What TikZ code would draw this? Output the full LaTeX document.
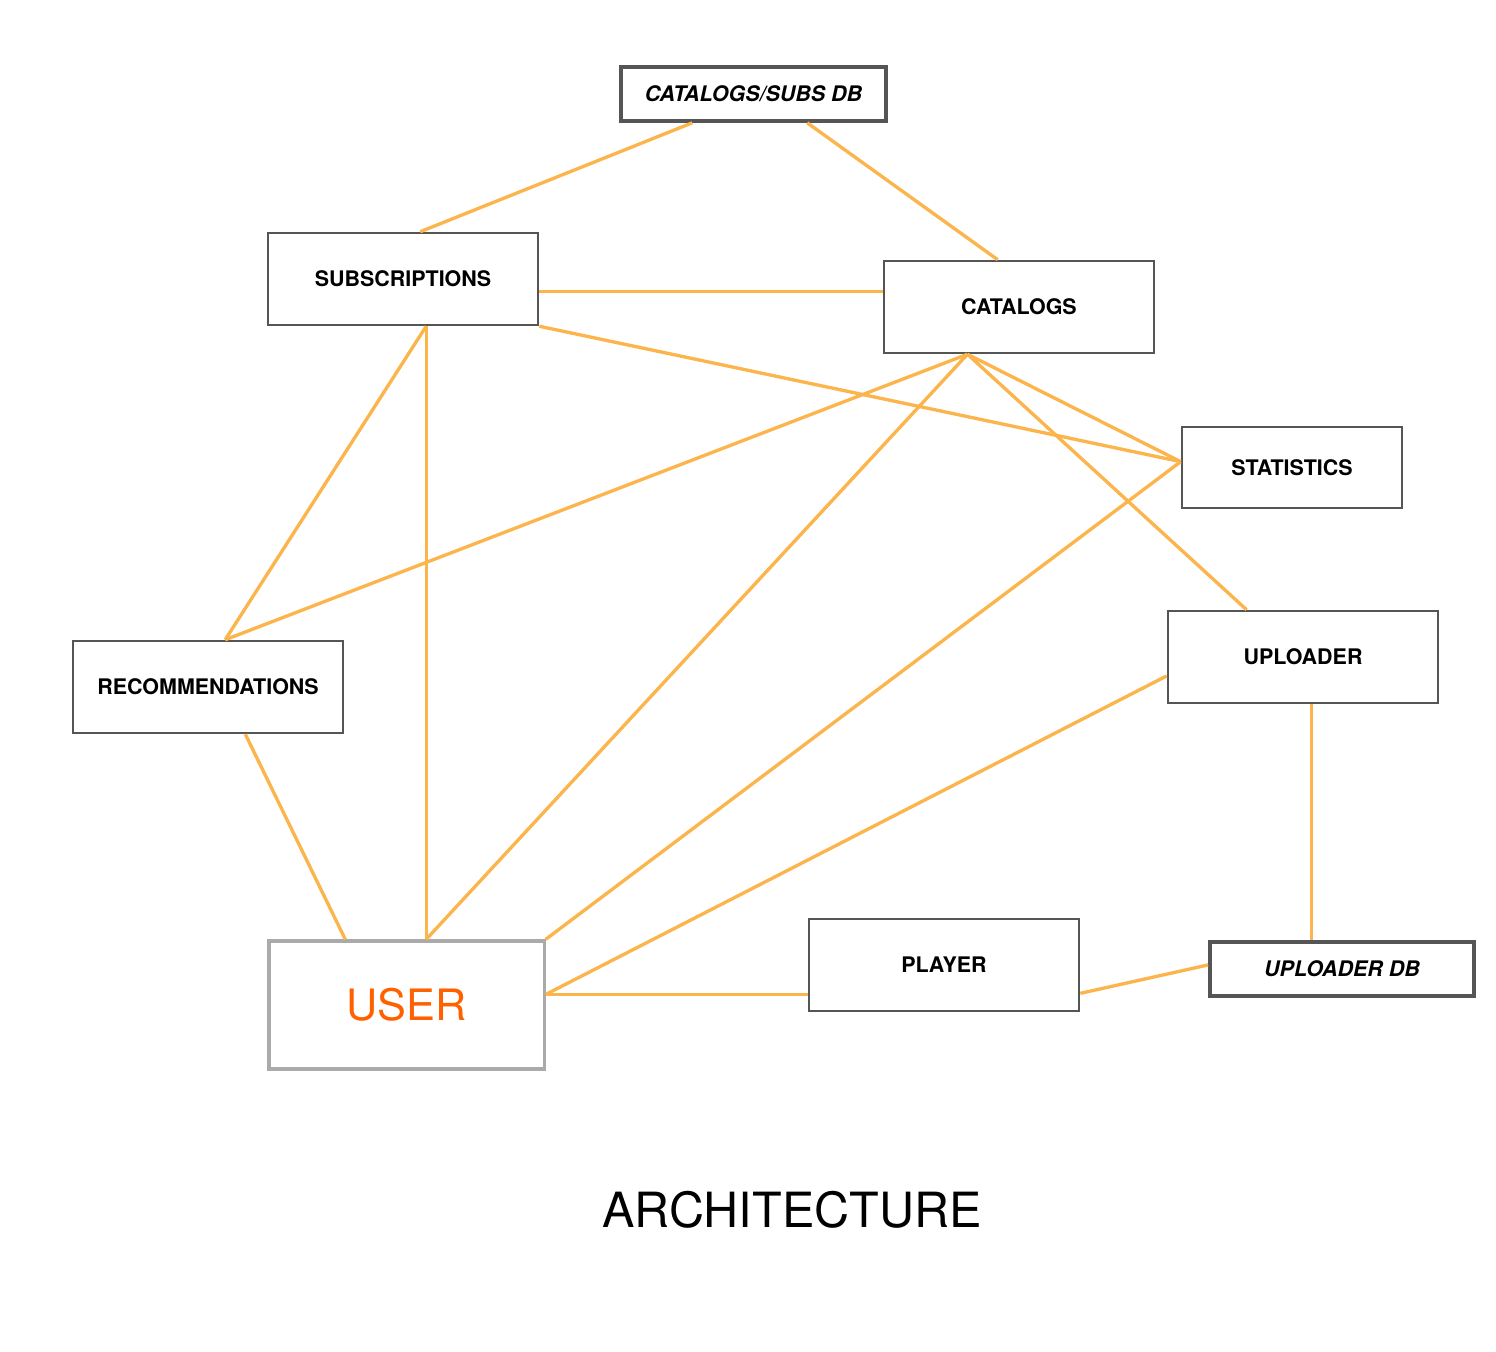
\documentclass[tikz,border=0pt]{standalone}
\usepackage{fontspec}
\setmainfont{TeX Gyre Heros}
\usetikzlibrary{calc}
\definecolor{boxgray}{HTML}{555555}
\definecolor{usergray}{HTML}{AAAAAA}
\definecolor{linkorange}{HTML}{FBB54C}
\definecolor{userorange}{HTML}{FF6000}
\tikzset{
  box/.style={draw=boxgray, line width=0.7pt, fill=white, minimum width=2.7cm,
    minimum height=0.92cm, inner sep=0pt, text depth=0pt, font=\bfseries\fontsize{6.1}{7}\selectfont},
  dbbox/.style={box, line width=1.05pt, minimum width=2.65cm, minimum height=0.54cm,
    font=\bfseries\itshape\fontsize{6.1}{7}\selectfont},
  userbox/.style={draw=usergray, line width=0.9pt, minimum width=2.75cm,
    minimum height=1.28cm, inner sep=0pt, text=userorange, font=\fontsize{12.3}{14}\selectfont},
  link/.style={draw=linkorange, line width=0.95pt}
}
\begin{document}
\begin{tikzpicture}[x=0.01cm, y=-0.01cm]
\useasboundingbox (0,0) rectangle (1496,1352);
\node[dbbox] (csdb) at (753.5,94) {CATALOGS/SUBS DB};
\node[box] (subs) at (403,279) {SUBSCRIPTIONS};
\node[box] (cat) at (1019,307) {CATALOGS};
\node[box, minimum width=2.2cm, minimum height=0.81cm] (stat) at (1292,467.5) {STATISTICS};
\node[box] (upl) at (1303,657) {UPLOADER};
\node[box] (rec) at (208,687) {RECOMMENDATIONS};
\node[userbox] (usr) at (406.5,1005) {USER};
\node[box] (play) at (944,965) {PLAYER};
\node[dbbox, minimum width=2.64cm] (updb) at (1342,969) {UPLOADER DB};
\node[font=\fontsize{13.8}{16}\selectfont] (title) at (792,1210) {ARCHITECTURE};
\coordinate (subsR) at ($(subs.north east)!0.63!(subs.south east)$);
\coordinate (subsB) at ($(subs.south west)!0.585!(subs.south east)$);
\coordinate (catB) at ($(cat.south west)!0.311!(cat.south east)$);
\coordinate (recT) at ($(rec.north west)!0.563!(rec.north east)$);
\coordinate (statL) at ($(stat.north west)!0.43!(stat.south west)$);
\coordinate (usrR) at ($(usr.north east)!0.42!(usr.south east)$);
\coordinate (uplB) at ($(upl.south west)!0.53!(upl.south east)$);
\draw[link] ($(csdb.south west)!0.272!(csdb.south east)$) -- ($(subs.north west)!0.563!(subs.north east)$);
\draw[link] ($(csdb.south west)!0.70!(csdb.south east)$) -- ($(cat.north west)!0.422!(cat.north east)$);
\draw[link] (subsR) -- (subsR -| cat.west);
\draw[link] (subs.south east) -- (statL);
\draw[link] (subsB) -- (subsB |- usr.north);
\draw[link] (subsB) -- (recT);
\draw[link] (catB) -- (recT);
\draw[link] (catB) -- (subsB |- usr.north);
\draw[link] (catB) -- (statL);
\draw[link] (catB) -- ($(upl.north west)!0.293!(upl.north east)$);
\draw[link] (statL) -- (usr.north east);
\draw[link] ($(upl.north west)!0.70!(upl.south west)$) -- (usrR);
\draw[link] (usrR) -- (usrR -| play.west);
\draw[link] ($(rec.south west)!0.637!(rec.south east)$) -- ($(usr.north west)!0.28!(usr.north east)$);
\draw[link] (uplB) -- (uplB |- updb.north);
\draw[link] ($(play.north east)!0.80!(play.south east)$) -- ($(updb.north west)!0.43!(updb.south west)$);
\end{tikzpicture}
\end{document}
